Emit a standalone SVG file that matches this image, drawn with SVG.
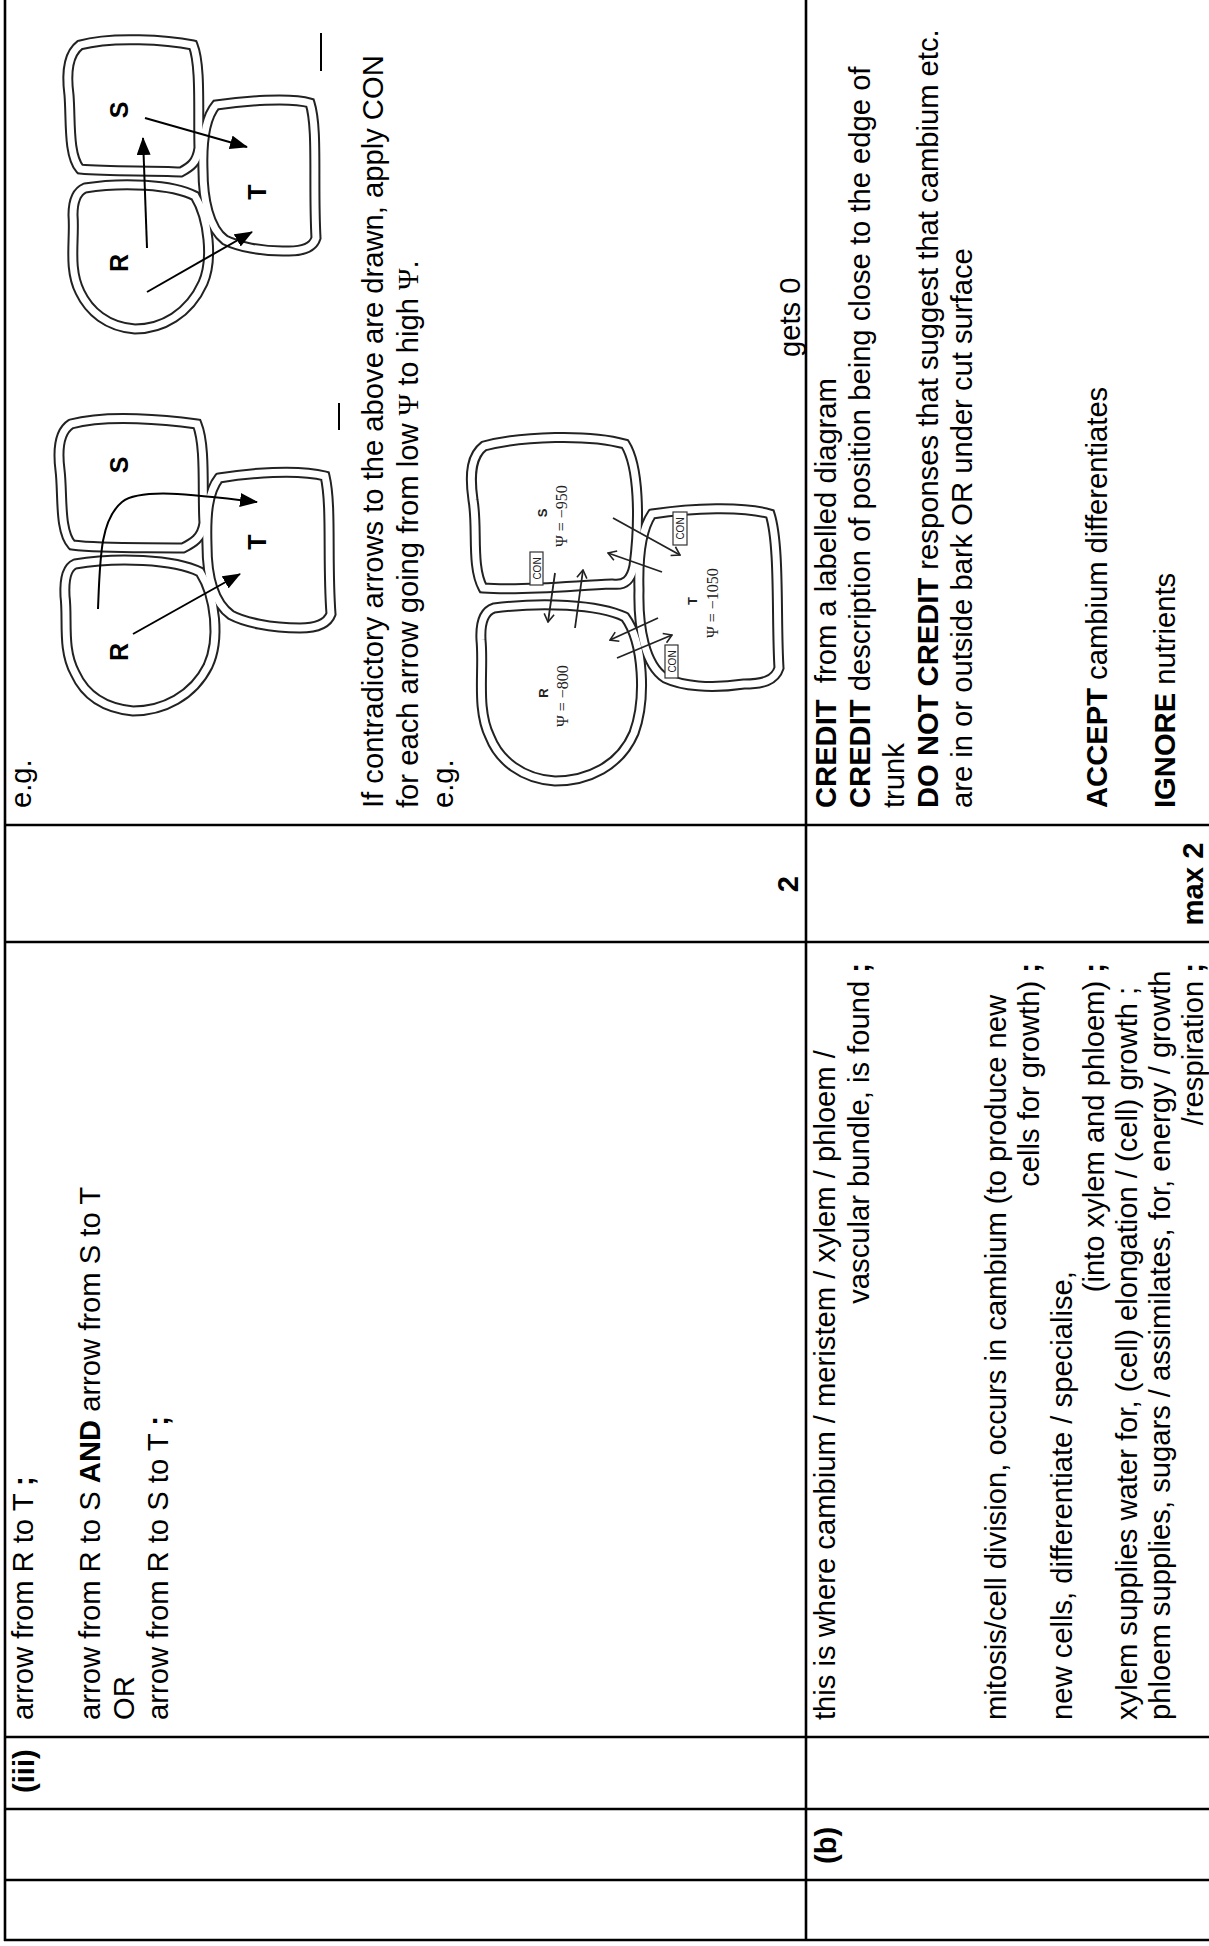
<svg xmlns="http://www.w3.org/2000/svg" width="1209" height="1946" viewBox="0 0 1209 1946">
<style>
.t{font-family:"Liberation Sans",Arial,sans-serif;font-size:29.2px;fill:#000;white-space:pre}
.b{font-weight:bold}
.e{text-anchor:end}
.m{text-anchor:middle}
.psi{font-family:"Liberation Serif","Times New Roman",serif}
.grid{stroke:#000;stroke-width:2.6;fill:none}
.wb{fill:none;stroke:#222;stroke-width:11}
.ww{fill:none;stroke:#fff;stroke-width:7}
.arr{fill:none;stroke:#000;stroke-width:2}
.arc{fill:none;stroke:#222;stroke-width:1.8}
.lbl{font-family:"Liberation Sans",Arial,sans-serif;font-weight:bold;font-size:25px;text-anchor:middle}
.sm{font-family:"Liberation Serif","Times New Roman",serif;font-size:16px;fill:#222}
.smb{font-family:"Liberation Sans",Arial,sans-serif;font-weight:bold;font-size:13px;text-anchor:middle;fill:#222}
.con{font-family:"Liberation Sans",Arial,sans-serif;font-size:10px;text-anchor:middle;fill:#222}
.conbox{fill:#fff;stroke:#333;stroke-width:1.2}
</style>
<defs>
<marker id="ah" viewBox="0 0 18 14" refX="17" refY="7" markerWidth="18" markerHeight="14" markerUnits="userSpaceOnUse" orient="auto"><path d="M0,0 L18,7 L0,14 Z" fill="#000"/></marker>
<marker id="oh" viewBox="0 0 10 12" refX="9" refY="6" markerWidth="10" markerHeight="12" markerUnits="userSpaceOnUse" orient="auto"><path d="M1,1 L9,6 L1,11" fill="none" stroke="#222" stroke-width="1.6"/></marker>
<path id="aS" d="M80,45 C112,36 168,40 193,45 C201,65 198,110 199,148 C197,163 190,167 181,172 C148,170 112,172 80,169 C68,155 71,120 69,95 C66,72 68,54 80,45 Z"/>
<path id="aR" d="M85,188 C122,182 172,184 195,196 C209,219 213,260 203,283 C189,314 162,329 135,329 C107,327 89,311 80,292 C68,268 75,240 73,215 C73,199 78,191 85,188 Z"/>
<path id="aT" d="M216,105 C243,101 290,97 310,103 C318,128 313,181 316,238 C313,248 302,251 289,251 C261,252 237,246 225,240 C209,228 203,199 203,170 C202,141 205,118 216,105 Z"/>
<path id="bS" d="M71,424 C108,414 168,420 197,424 C206,446 202,492 204,523 C202,538 193,543 183,548 C148,547 106,549 72,545 C59,531 63,494 60,470 C57,446 60,431 71,424 Z"/>
<path id="bT" d="M219,478 C248,473 298,469 325,476 C332,505 327,561 331,614 C327,625 314,628 300,628 C270,628 244,622 231,615 C213,602 207,574 207,545 C206,514 208,492 219,478 Z"/>
<path id="bR" d="M75,564 C116,557 174,559 200,572 C216,597 220,640 208,666 C193,696 163,711 133,711 C102,708 84,693 75,673 C62,649 68,620 65,596 C64,576 68,567 75,564 Z"/>
<path id="cS" d="M484,446 C522,436 589,434 625,444 C639,466 640,520 634,566 C631,580 625,586 612,584 C569,586 521,591 483,588 C471,566 478,528 473,500 C469,472 472,455 484,446 Z"/>
<path id="cR" d="M494,608 C541,602 598,604 625,617 C644,643 646,700 634,733 C620,766 588,781 555,781 C522,779 499,760 490,737 C476,709 484,670 481,640 C480,621 485,611 494,608 Z"/>
<path id="cT" d="M652,514 C692,508 744,506 770,514 C780,545 776,620 779,668 C775,681 762,684 744,684 C710,689 682,686 665,678 C645,665 638,628 639,590 C638,557 641,530 652,514 Z"/>
</defs>
<rect x="0" y="0" width="1209" height="1946" fill="#fff"/>

<g id="table-lines" class="grid">
<line x1="5" y1="0" x2="5" y2="1941"/>
<line x1="806" y1="0" x2="806" y2="1941"/>
<line x1="4" y1="825" x2="1209" y2="825"/>
<line x1="4" y1="942" x2="1209" y2="942"/>
<line x1="4" y1="1737" x2="1209" y2="1737"/>
<line x1="4" y1="1809" x2="1209" y2="1809"/>
<line x1="4" y1="1880" x2="1209" y2="1880"/>
<line x1="4" y1="1940" x2="1209" y2="1940"/>
</g>

<g id="texts" transform="translate(0,1946) rotate(-90)">
<g id="cell-iii-label"><text class="t b" x="153" y="34">(iii)</text></g>
<g id="cell-iii-answer">
<text class="t" x="226" y="33">arrow from R to T <tspan class="b">;</tspan></text>
<text class="t" x="226" y="100">arrow from R to S <tspan class="b">AND</tspan> arrow from S to T</text>
<text class="t" x="226" y="134">OR</text>
<text class="t" x="226" y="168">arrow from R to S to T <tspan class="b">;</tspan></text>
</g>
<g id="cell-iii-marks"><text class="t b m" x="1062" y="798">2</text></g>
<g id="cell-iii-guidance">
<text class="t" x="1138" y="31">e.g.</text>
<text class="t" x="1138" y="383">If contradictory arrows to the above are drawn, apply CON</text>
<text class="t" x="1138" y="418">for each arrow going from low <tspan class="psi">Ψ</tspan> to high <tspan class="psi">Ψ</tspan>.</text>
<text class="t" x="1138" y="453">e.g.</text>
<text class="t" x="1589" y="800">gets 0</text>
</g>
<g id="cell-b-label"><text class="t b" x="82" y="836">(b)</text></g>
<g id="cell-b-answer">
<text class="t" x="226" y="835">this is where cambium / meristem / xylem / phloem /</text>
<text class="t e" x="983" y="869">vascular bundle, is found <tspan class="b">;</tspan></text>
<text class="t" x="226" y="1006">mitosis/cell division, occurs in cambium (to produce new</text>
<text class="t e" x="983" y="1039">cells for growth) <tspan class="b">;</tspan></text>
<text class="t" x="226" y="1072">new cells, differentiate / specialise,</text>
<text class="t e" x="983" y="1104">(into xylem and phloem) <tspan class="b">;</tspan></text>
<text class="t" x="226" y="1137">xylem supplies water for, (cell) elongation / (cell) growth ;</text>
<text class="t" x="226" y="1170">phloem supplies, sugars / assimilates, for, energy / growth</text>
<text class="t e" x="983" y="1203">/respiration <tspan class="b">;</tspan></text>
</g>
<g id="cell-b-marks"><text class="t b m" x="1062" y="1203">max 2</text></g>
<g id="cell-b-guidance">
<text class="t" x="1138" y="836"><tspan class="b">CREDIT</tspan>  from a labelled diagram</text>
<text class="t" x="1138" y="870"><tspan class="b">CREDIT</tspan> description of position being close to the edge of</text>
<text class="t" x="1138" y="904">trunk</text>
<text class="t" x="1138" y="938"><tspan class="b">DO NOT CREDIT</tspan> responses that suggest that cambium etc.</text>
<text class="t" x="1138" y="972">are in or outside bark OR under cut surface</text>
<text class="t" x="1138" y="1107"><tspan class="b">ACCEPT</tspan> cambium differentiates</text>
<text class="t" x="1138" y="1175"><tspan class="b">IGNORE</tspan> nutrients</text>
</g>
</g>

<g id="diagram-a">
<use href="#aS" class="wb"/><use href="#aR" class="wb"/><use href="#aT" class="wb"/>
<use href="#aS" class="ww"/><use href="#aR" class="ww"/><use href="#aT" class="ww"/>
<line x1="321" y1="33" x2="321" y2="71" stroke="#000" stroke-width="2"/>
<text class="lbl" transform="translate(119,110) rotate(-90)" dy="9">S</text>
<text class="lbl" transform="translate(257,192) rotate(-90)" dy="9">T</text>
<text class="lbl" transform="translate(119,263) rotate(-90)" dy="9">R</text>
</g>
<g id="diagram-b">
<use href="#bS" class="wb"/><use href="#bR" class="wb"/><use href="#bT" class="wb"/>
<use href="#bS" class="ww"/><use href="#bR" class="ww"/><use href="#bT" class="ww"/>
<line x1="339" y1="403" x2="339" y2="430" stroke="#000" stroke-width="2"/>
<text class="lbl" transform="translate(119,465) rotate(-90)" dy="9">S</text>
<text class="lbl" transform="translate(257,542) rotate(-90)" dy="9">T</text>
<text class="lbl" transform="translate(119,652) rotate(-90)" dy="9">R</text>
</g>
<g id="diagram-c">
<use href="#cS" class="wb"/><use href="#cR" class="wb"/><use href="#cT" class="wb"/>
<use href="#cS" class="ww"/><use href="#cR" class="ww"/><use href="#cT" class="ww"/>
<text class="smb" transform="translate(542,513) rotate(-90)" dy="5">S</text>
<text class="sm" transform="translate(567,547) rotate(-90)">Ψ = −950</text>
<text class="smb" transform="translate(543,693) rotate(-90)" dy="5">R</text>
<text class="sm" transform="translate(568,727) rotate(-90)">Ψ = −800</text>
<text class="smb" transform="translate(692,601) rotate(-90)" dy="5">T</text>
<text class="sm" transform="translate(718,638) rotate(-90)">Ψ = −1050</text>
<rect class="conbox" x="530" y="552" width="13" height="33"/>
<text class="con" transform="translate(540.5,568.5) rotate(-90)">CON</text>
<rect class="conbox" x="673" y="512" width="14" height="33"/>
<text class="con" transform="translate(684,528.5) rotate(-90)">CON</text>
<rect class="conbox" x="665" y="645" width="13" height="33"/>
<text class="con" transform="translate(675.5,661.5) rotate(-90)">CON</text>
</g>

<g id="connectors">
<line class="arr" x1="147" y1="248" x2="143" y2="138" marker-end="url(#ah)"/>
<line class="arr" x1="145" y1="118" x2="247" y2="147" marker-end="url(#ah)"/>
<line class="arr" x1="147" y1="292" x2="252" y2="232" marker-end="url(#ah)"/>
<path class="arr" d="M98,609 C100,560 100,520 122,502 C140,488 190,494 257,502" marker-end="url(#ah)"/>
<line class="arr" x1="133" y1="634" x2="240" y2="574" marker-end="url(#ah)"/>
<line class="arc" x1="555" y1="573" x2="548" y2="622" marker-end="url(#oh)"/>
<line class="arc" x1="575" y1="628" x2="583" y2="570" marker-end="url(#oh)"/>
<line class="arc" x1="613" y1="518" x2="680" y2="555" marker-end="url(#oh)"/>
<line class="arc" x1="662" y1="572" x2="608" y2="553" marker-end="url(#oh)"/>
<line class="arc" x1="658" y1="618" x2="610" y2="640" marker-end="url(#oh)"/>
<line class="arc" x1="617" y1="658" x2="672" y2="635" marker-end="url(#oh)"/>
</g>
</svg>
